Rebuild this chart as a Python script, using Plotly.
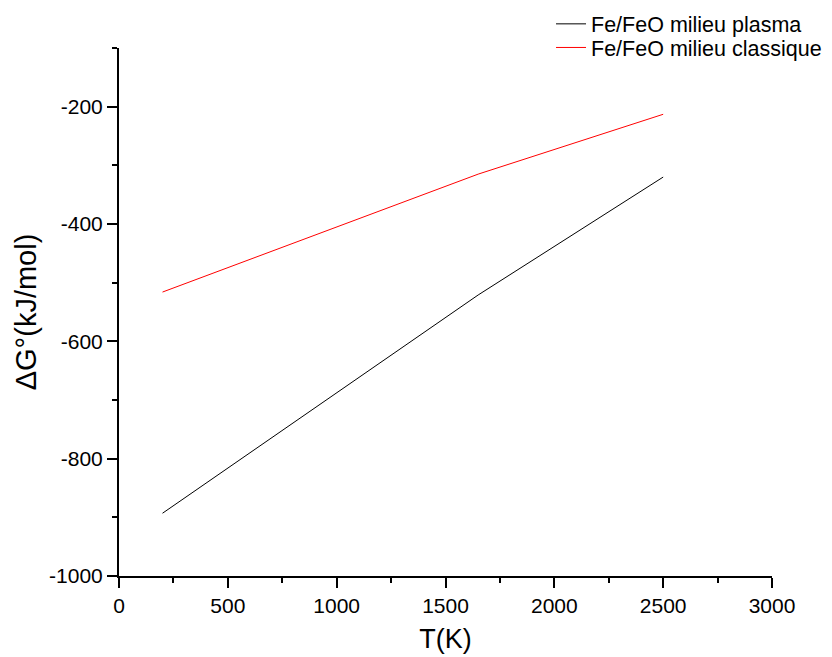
import plotly.graph_objects as go

T_plasma = [200, 1650, 2500]
G_plasma = [-893, -521, -320]
T_classique = [200, 1650, 2500]
G_classique = [-516, -315, -213]

x_tickvals = [0, 500, 1000, 1500, 2000, 2500, 3000]
x_ticktext = ["0", "500", "1000", "1500", "2000", "2500", "3000"]
y_tickvals = [-1000, -800, -600, -400, -200]
y_ticktext = ["-1000", "-800", "-600", "-400", "-200"]

FONT = "Arial, Liberation Sans, sans-serif"

fig = go.Figure()
fig.add_trace(go.Scatter(x=T_plasma, y=G_plasma, mode="lines",
                         line=dict(color="black", width=1),
                         name="Fe/FeO milieu plasma", legend="legend"))
fig.add_trace(go.Scatter(x=T_classique, y=G_classique, mode="lines",
                         line=dict(color="red", width=1),
                         name="Fe/FeO milieu classique", legend="legend2"))

axis_common = dict(showline=True, linecolor="black", linewidth=2, mirror=False,
                   showgrid=False, zeroline=False, ticks="outside", ticklen=10,
                   tickwidth=2, tickcolor="black", automargin=False,
                   tickfont=dict(family=FONT, size=21, color="black"))

fig.update_xaxes(range=[0, 3000], tickvals=x_tickvals, ticktext=x_ticktext,
                 minor=dict(ticks="outside", ticklen=5, tickwidth=2, tickcolor="black", dtick=250, tick0=0),
                 title=dict(text="T(K)", font=dict(family=FONT, size=27, color="black"), standoff=13),
                 **axis_common)
fig.update_yaxes(range=[-1000, -100], tickvals=y_tickvals, ticktext=y_ticktext,
                 minor=dict(ticks="outside", ticklen=5, tickwidth=2, tickcolor="black", dtick=100, tick0=-1000),
                 title=dict(text="ΔG°(kJ/mol)", font=dict(family=FONT, size=29, color="black"), standoff=4),
                 **axis_common)

legend_style = dict(xanchor="left", yanchor="top",
                    font=dict(family=FONT, size=21.5, color="black"),
                    bgcolor="rgba(0,0,0,0)")

fig.update_layout(
    width=824, height=649,
    margin=dict(l=111, r=60, t=40, b=81, autoexpand=False),
    plot_bgcolor="white", paper_bgcolor="white",
    font=dict(family=FONT, color="black"),
    legend=dict(x=0.6616, y=1.0845, **legend_style),
    legend2=dict(x=0.6616, y=1.0398, **legend_style),
    showlegend=True,
)

fig.write_html("out.html")
